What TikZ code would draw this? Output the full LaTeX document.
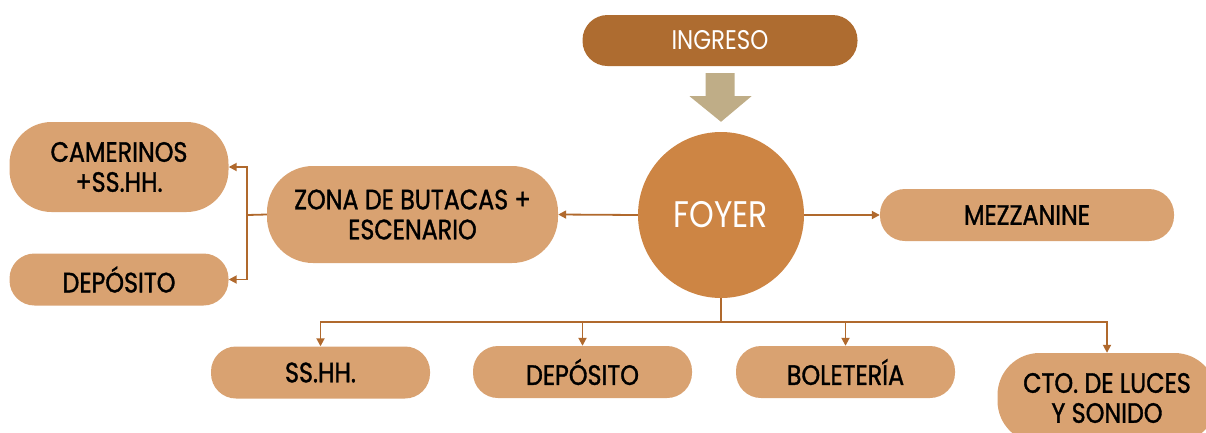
\documentclass[tikz,border=0pt]{standalone}
\usepackage{fontspec}
\setmainfont{Poppins}[FakeStretch=0.85,FakeBold=1.2]
\newfontfamily\whitefont{Poppins}[FakeStretch=0.85]
\usetikzlibrary{arrows.meta,calc}
\definecolor{boxc}{HTML}{D9A271}
\definecolor{ingc}{HTML}{AE6C30}
\definecolor{foyc}{HTML}{CD8544}
\definecolor{arrc}{HTML}{BFAD87}
\definecolor{linec}{HTML}{B0692D}
\newcommand\lblfont{\fontsize{28}{30}\selectfont}
\begin{document}
\begin{tikzpicture}[x=1pt,y=-1pt,
  box/.style={fill=boxc, rounded corners=25pt, minimum width=219pt, minimum height=52pt,
    align=center, font=\lblfont, text=black, inner sep=0pt},
  tallbox/.style={box, minimum height=90pt, rounded corners=42pt},
  conn/.style={draw=linec, line width=1.8pt, -{Triangle[length=8pt,width=8pt]}},
  plain/.style={draw=linec, line width=1.8pt}]
\useasboundingbox (0,0) rectangle (1206,432);
\clip (0,0) rectangle (1206,432);
% nodes
\node[box, fill=ingc, text=white, minimum width=275pt, minimum height=51pt,
  font=\whitefont\fontsize{27}{30}\selectfont] (ing) at (720,40.5) {INGRESO};
\node[circle, fill=foyc, minimum size=166pt, inner sep=0pt, text=white,
  font=\whitefont\fontsize{37}{40}\selectfont] (foy) at (721,215) {FOYER};
\node[box, minimum width=294pt] (mez) at (1027,215) {MEZZANINE};
\node[box, minimum width=291pt, minimum height=97pt, rounded corners=46pt] (zona) at (412.5,214.5) {ZONA DE BUTACAS +\\ESCENARIO};
\node[tallbox] (cam) at (119,167) {CAMERINOS\\+SS.HH.};
\node[box] (dep1) at (119,279.5) {DEPÓSITO};
\node[box] (ss) at (320.5,372.5) {SS.HH.};
\node[box] (dep2) at (582.5,372) {DEPÓSITO};
\node[box] (bol) at (845.5,372) {BOLETERÍA};
\node[tallbox] (cto) at (1107,398) {CTO. DE LUCES\\Y SONIDO};
% big arrow from INGRESO to FOYER
\fill[arrc] ($(ing.south)+(-14.5,7)$) -- ++(29,0) -- ++(0,23) -- ++(17,0)
  -- ($(foy.north)+(0,-10)$) -- ($(ing.south)+(-30.5,30)$) -- ++(16,0) -- cycle;
% connectors
\draw[conn] (foy.west) -- (zona.east);
\draw[conn] (foy.east) -- (mez.west);
\coordinate (bus) at (721,322);
\draw[plain] (foy.south) -- (bus);
\draw[conn] (bus) -| (ss.north);
\draw[conn] (bus) -| (dep2.north);
\draw[conn] (bus) -| (bol.north);
\draw[conn] (bus) -| (cto.north);
\coordinate (lb) at (247,215);
\draw[plain] (zona.west) -- (lb);
\draw[conn] (lb) |- (cam.east);
\draw[conn] (lb) |- (dep1.east);
\end{tikzpicture}
\end{document}
